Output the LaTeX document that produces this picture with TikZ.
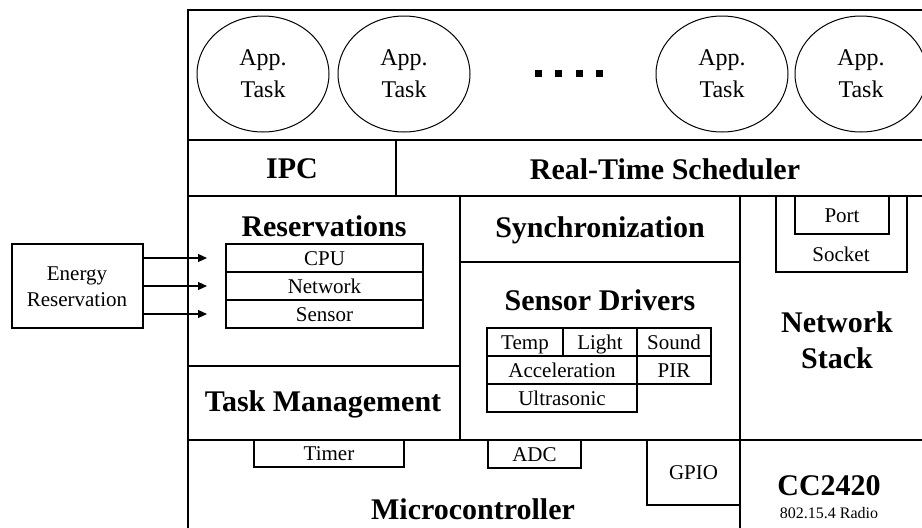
\documentclass[tikz,border=0pt]{standalone}
\usepackage{fontspec}
\setmainfont{Liberation Serif}
\usetikzlibrary{arrows.meta,shapes.geometric}
\begin{document}
\begin{tikzpicture}[x=1pt,y=-1pt,
  cell/.style={draw, line width=1.1pt, inner sep=0pt, outer sep=0pt, anchor=north west, font=\fontsize{21}{22}\selectfont, text height=14pt, text depth=0pt},
  title/.style={font=\fontsize{30}{36}\selectfont\bfseries, inner sep=0pt, align=center},
  small/.style={font=\fontsize{21}{26}\selectfont, inner sep=0pt, align=center},
  task/.style={draw, line width=1pt, ellipse, minimum width=132pt, minimum height=116pt, inner sep=0pt, align=center, font=\fontsize{24}{32}\selectfont},
  dot/.style={fill=black, minimum size=7pt, inner sep=0pt},
  arr/.style={line width=1.1pt, -{Triangle[length=9pt,width=8pt]}}
  ]
\useasboundingbox (0,0) rectangle (922,528);
\clip (0,0) rectangle (922,528);
% main layers
\node[cell, minimum width=742pt, minimum height=130pt] (apps) at (188,10) {};
\node[cell, minimum width=208pt, minimum height=56pt] (ipc) at (188,140) {};
\node[cell, minimum width=534pt, minimum height=56pt] (rts) at (396,140) {};
\node[cell, minimum width=272pt, minimum height=170pt] (resv) at (188,196) {};
\node[cell, minimum width=272pt, minimum height=74pt] (taskm) at (188,366) {};
\node[cell, minimum width=280pt, minimum height=66pt] (sync) at (460,196) {};
\node[cell, minimum width=280pt, minimum height=178pt] (sensd) at (460,262) {};
\node[cell, minimum width=190pt, minimum height=244pt] (net) at (740,196) {};
\node[cell, minimum width=552pt, minimum height=100pt] (micro) at (188,440) {};
\node[cell, minimum width=190pt, minimum height=100pt] (cc) at (740,440) {};
% titles
\node[title] (tipc) at (292,169) {IPC};
\node[title] (trts) at (665,169) {Real-Time Scheduler};
\node[title] (tresv) at (324,226) {Reservations};
\node[title] (ttaskm) at (323,404) {Task Management};
\node[title] (tsync) at (600,230) {Synchronization};
\node[title] (tsensd) at (600,300) {Sensor Drivers};
\node[title] (tnet) at (837,340) {Network\\Stack};
\node[title] (tmicro) at (473,509) {Microcontroller};
\node[title] (tcc) at (829,486) {CC2420};
\node[font=\fontsize{16}{18}\selectfont, inner sep=0pt] (tradio) at (829,513) {802.15.4 Radio};
% app tasks
\node[task] (a1) at (263,74) {App.\\Task};
\node[task] (a2) at (404,74) {App.\\Task};
\node[task] (a3) at (722,74) {App.\\Task};
\node[task] (a4) at (861,74) {App.\\Task};
\node[dot] (d1) at (538,73) {};
\node[dot] (d2) at (558.5,73) {};
\node[dot] (d3) at (579,73) {};
\node[dot] (d4) at (599.5,73) {};
% reservations table
\node[cell, minimum width=197pt, minimum height=28pt] (cpu) at (226,244) {CPU};
\node[cell, minimum width=197pt, minimum height=28pt] (netw) at (226,272) {Network};
\node[cell, minimum width=197pt, minimum height=28pt] (sens) at (226,300) {Sensor};
% energy reservation
\node[cell, minimum width=131pt, minimum height=84pt] (energy) at (12,244) {};
\node[small] (tenergy) at (77,287) {Energy\\Reservation};
\coordinate (tip) at (207,0);
\draw[arr] (energy.east |- cpu) -- (tip |- cpu);
\draw[arr] (energy.east |- netw) -- (tip |- netw);
\draw[arr] (energy.east |- sens) -- (tip |- sens);
% sensor table
\node[cell, minimum width=76pt, minimum height=28pt] (temp) at (487,328) {Temp};
\node[cell, minimum width=74pt, minimum height=28pt] (light) at (563,328) {Light};
\node[cell, minimum width=74pt, minimum height=28pt] (sound) at (637,328) {Sound};
\node[cell, minimum width=150pt, minimum height=28pt] (accel) at (487,356) {Acceleration};
\node[cell, minimum width=74pt, minimum height=28pt] (pir) at (637,356) {PIR};
\node[cell, minimum width=150pt, minimum height=28pt] (ultra) at (487,384) {Ultrasonic};
% socket / port
\node[cell, minimum width=131pt, minimum height=76pt] (socket) at (776,196) {};
\node[small] (tsocket) at (841,254) {Socket};
\node[cell, minimum width=94pt, minimum height=38pt] (port) at (795,196) {Port};
% microcontroller peripherals
\node[cell, minimum width=150pt, minimum height=27pt] (timer) at (254,440) {Timer};
\node[cell, minimum width=93pt, minimum height=28pt] (adc) at (488,440) {ADC};
\node[cell, minimum width=93pt, minimum height=65pt] (gpio) at (647,440) {GPIO};
\end{tikzpicture}
\end{document}
